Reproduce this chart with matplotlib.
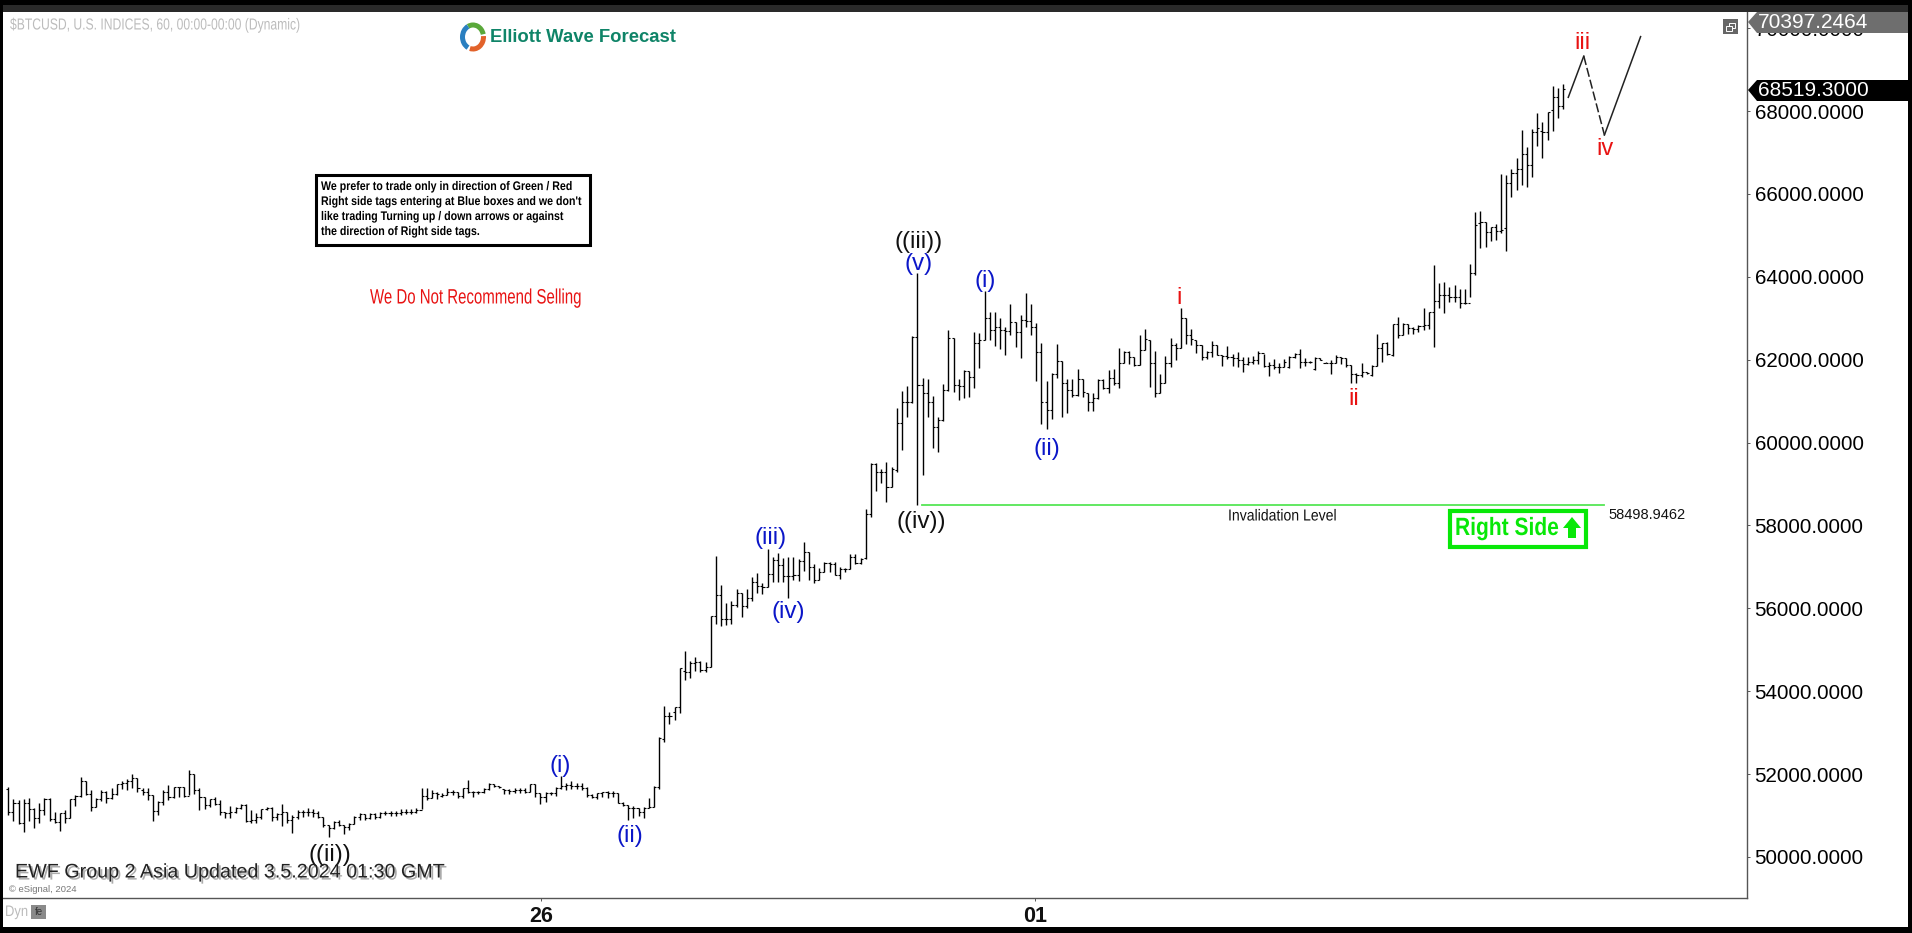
import numpy as np
import matplotlib
matplotlib.use('Agg')
import matplotlib.pyplot as plt
import matplotlib.patheffects as pe
from matplotlib.patches import Polygon, Rectangle, Arc
from matplotlib.transforms import Affine2D

# hourly bars
highs = [
    51680,51390,51375,51390,51415,51175,51295,51415,51415,51095,
    51070,51135,51390,51495,51920,51840,51615,51430,51615,51600,
    51655,51760,51840,51875,52000,51900,51655,51655,51495,51360,
    51615,51735,51695,51695,51695,52100,52000,51655,51440,51390,
    51440,51375,51095,51230,51200,51280,51280,51135,51055,51160,
    51215,51215,51055,51280,51095,51015,51135,51135,51175,51160,
    51110,50975,50770,50870,50895,50770,50810,50990,51055,51040,
    51055,51070,51095,51120,51120,51120,51150,51150,51150,51175,
    51655,51655,51615,51560,51535,51655,51615,51575,51655,51855,
    51600,51600,51655,51775,51760,51710,51630,51630,51655,51655,
    51655,51760,51760,51550,51560,51575,51695,51955,51795,51840,
    51795,51775,51680,51520,51550,51575,51600,51600,51535,51335,
    51255,51230,51175,51215,51415,51710,52890,53645,53510,53630,
    54555,54970,54740,54820,54730,54700,55825,57265,56565,56135,
    56185,56460,56380,56460,56750,56845,56605,57430,57245,57345,
    57205,57230,57230,57180,57595,57365,57060,56980,57125,57125,
    57110,57005,56980,57310,57310,57205,58395,59500,59500,59355,
    59530,59420,60825,61245,61365,62570,64100,61550,61525,61125,
    60610,61415,62715,62515,61525,61750,61735,62675,62635,63655,
    63160,63160,63000,62780,63345,62920,63080,63600,63345,62895,
    62395,61485,61670,62380,61975,61525,61525,61770,61525,61205,
    61205,61525,61525,61750,61770,62275,62220,62220,62075,62595,
    62735,62475,62220,61655,62090,62515,62410,63240,63000,62735,
    62475,62355,62220,62460,62355,62115,62330,62130,62180,62060,
    62060,62090,62220,62140,61955,62010,61915,62010,62090,62155,
    62250,62035,61975,62055,62035,61955,61995,62115,62075,62035,
    61870,61670,61915,61710,61870,62620,62395,62435,62860,63020,
    62875,62860,62795,62835,63240,63160,64285,63840,63880,63760,
    63800,63695,63695,64310,65575,65590,65330,65210,65275,66480,
    66455,66595,66860,67545,67140,67560,67945,67745,67985,68605,
    68550,68650,
]
lows = [
    51010,50875,50795,50610,50880,50710,50810,51015,50875,50810,
    50635,50830,50935,51230,51440,51495,51120,51215,51360,51310,
    51390,51495,51630,51615,51655,51560,51495,51375,50870,51015,
    51255,51375,51415,51455,51455,51495,51520,51135,51165,51215,
    51255,51015,50950,50935,51055,51150,50855,50810,50830,50910,
    51135,50875,50895,50755,50810,50585,50910,50975,50990,50955,
    50935,50730,50490,50670,50755,50555,50650,50795,50895,50895,
    50910,50910,50940,51005,50995,50990,51005,51040,51040,51055,
    51150,51375,51415,51390,51455,51495,51495,51415,51415,51535,
    51455,51520,51550,51615,51680,51655,51520,51520,51535,51550,
    51535,51575,51455,51270,51335,51495,51470,51630,51615,51630,
    51630,51615,51455,51415,51390,51455,51415,51440,51295,51230,
    50890,50935,50990,50935,51175,51215,51650,52785,53210,53305,
    53470,54270,54330,54495,54475,54475,54580,55615,55585,55600,
    55625,56025,55800,56015,56180,56380,56340,56505,56645,56645,
    56645,56240,56685,56670,56910,56685,56605,56685,56885,56885,
    56805,56700,56885,56940,57060,57060,57185,58195,58840,59015,
    58575,58920,59300,59820,60625,60965,58495,59220,60610,59865,
    59760,60530,61255,61230,61030,61085,61110,61325,61790,62475,
    62475,62330,62250,62115,62595,62315,62050,62795,62595,61495,
    60450,60330,60560,61550,60625,60725,61110,61125,61110,60770,
    60770,61045,61285,61190,61390,61325,61915,61895,61850,61870,
    62235,61350,61110,61205,61430,61815,61995,62275,62380,62355,
    62155,61995,62010,62075,62115,61855,62010,61850,61815,61710,
    61875,61895,61895,61830,61615,61770,61670,61815,61810,62035,
    61810,61850,61915,61750,61995,61915,61655,61915,61895,61830,
    61430,61430,61575,61655,61615,61850,61955,62115,62100,62515,
    62595,62620,62620,62675,62715,62740,62315,63240,63120,63400,
    63385,63240,63345,63505,64045,64690,64730,64875,64890,65050,
    64610,65935,66095,66215,66175,66400,67155,66860,67300,67525,
    67840,68050,
]
opens = [
    51650,51090,51295,50810,51310,51160,50930,51130,51390,50910,
    50840,51070,50930,51390,51480,51830,51510,51210,51390,51560,
    51415,51510,51750,51790,51840,51900,51615,51575,51500,51110,
    51335,51575,51455,51680,51680,51470,52000,51615,51440,51255,
    51390,51280,51095,51055,51095,51190,51255,50875,50890,50955,
    51150,51175,50955,51040,51080,50895,50955,51095,51080,51095,
    51070,50975,50770,50690,50835,50770,50730,50795,50955,51030,
    50935,51030,50955,51055,51070,51070,51070,51095,51090,51090,
    51135,51470,51415,51535,51470,51495,51560,51575,51470,51655,
    51575,51575,51575,51630,51760,51720,51630,51615,51600,51615,
    51615,51575,51750,51535,51440,51535,51550,51655,51710,51735,
    51720,51720,51670,51495,51455,51535,51560,51550,51535,51310,
    51255,51175,51175,51095,51190,51215,51680,52840,53390,53510,
    53615,54495,54475,54675,54700,54515,54595,55815,56320,55735,
    55735,56080,56360,56065,56240,56630,56545,56505,56820,57165,
    57045,56780,56780,56805,57150,57360,56990,56685,56885,57085,
    57060,56805,56940,56940,57245,57085,57205,58270,59480,59295,
    59295,58935,59340,60480,60990,60990,62555,61390,61190,60990,
    60385,60545,61270,62515,61390,61375,61735,61575,62395,62475,
    63000,62715,62780,62715,62700,62920,62675,62960,62935,62795,
    62180,60990,60785,61650,61975,61430,61270,61150,61525,61205,
    60990,61070,61510,61310,61550,61430,61915,62195,62075,61875,
    62235,62475,61930,61205,61430,61915,62355,62275,63000,62595,
    62475,62355,62075,62195,62355,62115,62090,62060,62035,61995,
    61895,61955,61995,62155,61850,61875,61830,61815,61830,62075,
    62130,61955,61945,61770,62035,61930,61930,61915,62055,62035,
    61870,61655,61630,61710,61630,61850,62275,62395,62115,62855,
    62595,62860,62755,62740,62820,62835,63145,63425,63560,63560,
    63505,63505,63375,63360,64085,65290,65315,65075,65195,65115,
    65170,66255,66500,66600,66955,66700,67485,67525,67505,68025,
    68330,68120,
]
closes = [
    51090,51295,50810,51310,51160,50930,51130,51390,50910,50840,
    51070,50930,51390,51480,51830,51510,51210,51390,51560,51415,
    51510,51750,51790,51840,51900,51670,51575,51495,51110,51335,
    51575,51455,51680,51680,51480,52000,51615,51440,51255,51390,
    51280,51095,51055,51095,51190,51255,50875,50890,50955,51150,
    51175,50955,51040,51080,50895,50955,51095,51080,51095,51070,
    50975,50770,50690,50835,50770,50730,50795,50955,51030,50935,
    51030,50955,51055,51070,51070,51070,51095,51090,51090,51135,
    51470,51415,51535,51510,51495,51560,51575,51470,51655,51575,
    51575,51575,51630,51760,51720,51695,51615,51600,51615,51615,
    51575,51750,51535,51440,51535,51550,51655,51710,51735,51720,
    51720,51670,51495,51455,51535,51560,51550,51535,51310,51255,
    51175,51175,51095,51190,51215,51680,52880,53390,53405,53615,
    54555,54475,54675,54700,54515,54595,55815,56320,55735,55735,
    56080,56360,56065,56240,56630,56545,56505,56820,57165,57045,
    56780,56780,56805,57150,57360,56990,56685,56885,57085,57060,
    56805,56940,56940,57245,57085,57180,58270,59480,59295,59295,
    58935,59360,60480,60990,60990,62555,61390,61190,60990,60385,
    60545,61270,62515,61390,61375,61735,61575,62395,62475,63000,
    62715,62780,62715,62700,62920,62675,62960,62935,62795,62180,
    60990,60785,61650,61975,61430,61270,61150,61525,61230,60990,
    61070,61510,61310,61550,61430,61915,62195,62075,61875,62235,
    62490,61930,61205,61430,61915,62355,62275,63000,62595,62490,
    62355,62075,62195,62355,62115,62090,62060,62035,61995,61895,
    61955,61995,62155,61850,61875,61830,61815,61955,62075,62130,
    61955,61945,61945,62035,62000,61930,61915,62055,62035,61870,
    61655,61630,61710,61670,61850,62275,62395,62140,62855,62595,
    62860,62755,62740,62820,62835,63145,63425,63560,63560,63505,
    63505,63375,63360,64085,65250,65315,65075,65195,65115,65130,
    66255,66500,66600,66955,66700,67485,67585,67505,67985,68330,
    68120,68519.3,
]

price_ticks = [50000, 52000, 54000, 56000, 58000, 60000, 62000, 64000, 66000, 68000, 70000]
date_ticks = [103.1, 198.8]
date_labels = ['26', '01']

# (label, bar position, price)
black_labels = [('((ii))', 62.3, 50040), ('((iii))', 176.3, 64840), ('((iv))', 176.7, 58090)]
blue_labels = [('(i)', 106.8, 52190), ('(ii)', 120.4, 50500), ('(iii)', 147.5, 57690),
               ('(iv)', 151.0, 55900), ('(v)', 176.3, 64300), ('(i)', 189.1, 63910),
               ('(ii)', 201.1, 59850)]
red_labels = [('i', 226.7, 63480), ('ii', 260.5, 61040), ('iii', 304.7, 69640), ('iv', 309.1, 67080)]

# projected path after the last bar
path_x = [302, 305, 309, 316]
path_y = [68330, 69325, 67420, 69795]

invalidation = 58498.9462
inval_start = 176.9
inval_end = 308.9

W, H = 1912, 933
AX_L, AX_R, AX_T, AX_B = 3, 1747, 12, 898


# no narrow font here, so squeeze the text sideways when it is drawn
class Squeeze(pe.AbstractPathEffect):
    def __init__(self, sx, x0):
        super().__init__()
        self.sx = sx
        self.x0 = x0

    def draw_path(self, renderer, gc, tpath, affine, rgbFace=None):
        squeezed = affine + Affine2D().translate(-self.x0, 0).scale(self.sx, 1).translate(self.x0, 0)
        renderer.draw_path(gc, tpath, squeezed, rgbFace)


def narrow_text(axis, xpos, ypos, text, sx, **kwargs):
    return axis.text(xpos, ypos, text, va='center', path_effects=[Squeeze(sx, xpos)], **kwargs)


plt.rcParams['font.family'] = 'Liberation Sans'

fig = plt.figure(figsize=(W / 100, H / 100), dpi=100, facecolor='white')
ax = fig.add_axes([AX_L / W, 1 - AX_B / H, (AX_R - AX_L) / W, (AX_B - AX_T) / H])
ax.set_xlim(-1.03, 336.6)
ax.set_ylim(49010, 70389)

x = np.arange(len(highs))
assert len(highs) == len(lows) == len(opens) == len(closes)
ax.vlines(x, lows, highs, color='black', linewidth=1.0)
ax.hlines(opens, x - 0.4, x, color='black', linewidth=0.8)
ax.hlines(closes, x, x + 0.4, color='black', linewidth=0.8)

ax.plot(path_x[:2], path_y[:2], color='#222222', linewidth=1.1)
ax.plot(path_x[1:3], path_y[1:3], color='#222222', linewidth=1.1, linestyle=(0, (6, 2)))
ax.plot(path_x[2:], path_y[2:], color='#222222', linewidth=1.1)
ax.plot([inval_start, inval_end], [invalidation, invalidation], color='#55e655', linewidth=1.3)

for labels, colour, size in [(black_labels, '#111111', 17.5), (blue_labels, '#0b16c8', 17.5), (red_labels, '#e81212', 17)]:
    for text, xpos, price in labels:
        ax.text(xpos, price, text, color=colour, fontsize=size, ha='center', va='center')

for side in ['left', 'top']:
    ax.spines[side].set_visible(False)
for side in ['right', 'bottom']:
    ax.spines[side].set_color('#555555')
    ax.spines[side].set_linewidth(1.0)

ax.yaxis.tick_right()
ax.set_yticks(price_ticks)
ax.set_yticklabels([f'{p:.4f}' for p in price_ticks])
ax.tick_params(axis='y', length=2, width=0.7, color='#555555', pad=3.5, labelsize=14.8, labelcolor='black')
ax.set_xticks(date_ticks)
ax.set_xticklabels(date_labels, fontweight='bold')
ax.tick_params(axis='x', length=2, width=0.7, color='#555555', pad=3.5, labelsize=15.5, labelcolor='#111111')

# everything else sits on a pixel overlay
ov = fig.add_axes([0, 0, 1, 1])
ov.set_xlim(0, W)
ov.set_ylim(H, 0)
ov.axis('off')
ov.patch.set_visible(False)

# window frame
ov.add_patch(Rectangle((0, 0), W, 5, color='black', lw=0))
ov.add_patch(Rectangle((0, 5), W, 7, color='#2a2a2a', lw=0))
ov.add_patch(Rectangle((0, 0), 3, H, color='black', lw=0))
ov.add_patch(Rectangle((1908, 0), 4, H, color='black', lw=0))
ov.add_patch(Rectangle((0, 927), W, 6, color='black', lw=0))

# right side price tags
ov.add_patch(Polygon([(1748, 22), (1757, 12), (1908, 12), (1908, 33), (1757, 33)], color='#6e6e6e', lw=0))
ov.text(1758, 22.5, '70397.2464', color='white', fontsize=15, va='center')
ov.add_patch(Polygon([(1748, 90), (1757, 80), (1908, 80), (1908, 101), (1757, 101)], color='black', lw=0))
ov.text(1758, 90.5, '68519.3000', color='white', fontsize=15, va='center')

# restore icon
ov.add_patch(Rectangle((1723, 19), 15, 15, color='#666666', lw=0))
ov.add_patch(Rectangle((1729, 23), 6, 5, fill=False, ec='white', lw=0.7))
ov.add_patch(Rectangle((1726, 26), 6, 5, fc='#666666', ec='white', lw=0.7))

narrow_text(ov, 10, 25, r'\$BTCUSD, U.S. INDICES, 60, 00:00-00:00 (Dynamic)', 0.76, color='#bcbcbc', fontsize=11.5)

# logo
ov.add_patch(Arc((473, 37), 21, 24, theta1=-115, theta2=-15, color='#5aa83a', lw=3.6))
ov.add_patch(Arc((473, 37), 21, 24, theta1=-5, theta2=105, color='#e2622a', lw=3.6))
ov.add_patch(Arc((473, 37), 21, 24, theta1=115, theta2=245, color='#2a7fc0', lw=3.6))
ov.text(490, 37, 'Elliott Wave Forecast', color='#0f8468', fontsize=13.3, fontweight='bold', va='center')

# trading note
ov.add_patch(Rectangle((316, 175), 274, 70, fc='white', ec='black', lw=2.2))
note_lines = ['We prefer to trade only in direction of Green / Red',
              "Right side tags entering at Blue boxes and we don't",
              'like trading Turning up / down arrows or against',
              'the direction of Right side tags.']
for line, ypos in zip(note_lines, [187, 202, 217, 232]):
    narrow_text(ov, 321, ypos, line, 0.85, color='black', fontsize=9, fontweight='bold')

narrow_text(ov, 370, 298, 'We Do Not Recommend Selling', 0.72, color='#e81212', fontsize=15)

narrow_text(ov, 1228, 516, 'Invalidation Level', 0.88, color='#111111', fontsize=11.5)
ov.text(1608, 515, '58498.9462', color='#111111', fontsize=10.5, va='center')

# right side tag
ov.add_patch(Rectangle((1450, 511), 136, 36, fc='white', ec='#08e808', lw=3))
narrow_text(ov, 1455, 528, 'Right Side', 0.84, color='#08e808', fontsize=18, fontweight='bold')
ov.add_patch(Polygon([(1572, 517), (1581, 528), (1576, 528), (1576, 538), (1568, 538), (1568, 528), (1563, 528)],
                     color='#08e808', lw=0))

ov.text(15, 872, 'EWF Group 2 Asia Updated 3.5.2024 01:30 GMT', color='#222222', fontsize=14.2, va='center',
        path_effects=[pe.withSimplePatchShadow(offset=(1.5, -1.5), shadow_rgbFace='#888888', alpha=0.7)])
ov.text(9, 890, '© eSignal, 2024', color='#777777', fontsize=6.8, va='center')

narrow_text(ov, 5, 912, 'Dyn', 0.85, color='#bbbbbb', fontsize=11)
ov.add_patch(Rectangle((31, 905), 15, 14, color='#8a8a8a', lw=0))
ov.text(38.5, 912, 'fe', color='#333333', fontsize=7, ha='center', va='center')

fig.savefig('out.png', dpi=100, facecolor='white')
